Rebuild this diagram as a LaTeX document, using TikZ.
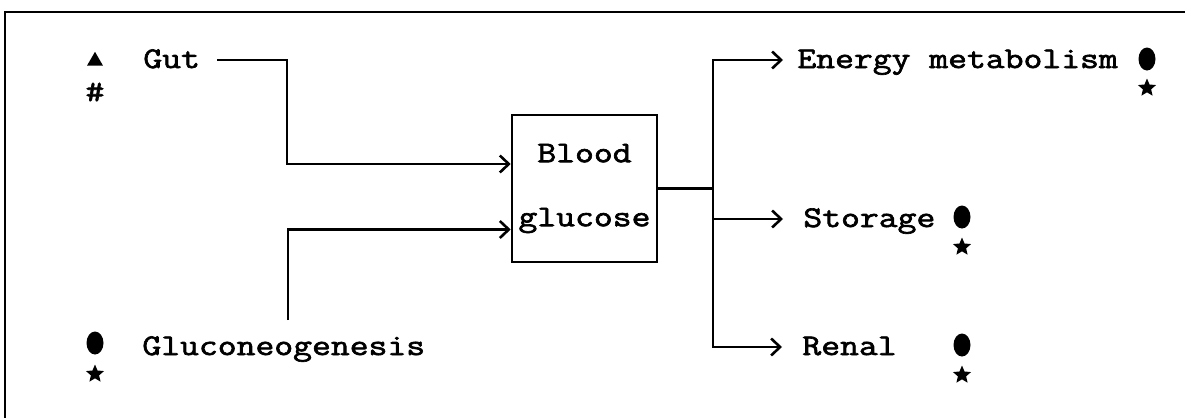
\documentclass[tikz,border=0pt]{standalone}
\usepackage{fontspec}
\setmonofont{Latin Modern Mono}[FakeStretch=1.22,FakeBold=2.2]
\usetikzlibrary{arrows.meta,positioning,shapes.geometric}
\tikzset{
  bgfont/.style={font=\ttfamily\fontsize{15}{18}\selectfont},
  bglabel/.style={bgfont, anchor=west, inner sep=0pt,
    text height=11pt, text depth=3pt},
  bgbox/.style={bgfont, draw=black, line width=1.3pt, align=center,
    minimum width=72.5pt, minimum height=73.5pt, inner sep=2pt},
  bgedge/.style={-{Straight Barb[length=4.5pt,width=8.5pt,line width=1.3pt]},
    line width=1.3pt, line join=miter},
  bgline/.style={line width=1.3pt},
  bgframe/.style={line width=1.1pt},
  bgtri/.style={regular polygon, regular polygon sides=3, fill=black,
    inner sep=0pt, minimum size=9.2pt},
  bgdot/.style={ellipse, fill=black, inner sep=0pt,
    minimum width=8.5pt, minimum height=11.5pt},
  bgstar/.style={star, star points=5, star point ratio=2.2, fill=black,
    inner sep=0pt, minimum size=9.5pt},
  bgsign/.style={bgfont, inner sep=0pt}
}
\begin{document}
\begin{tikzpicture}[x=0.5pt,y=-0.5pt]
  \useasboundingbox (0,0) rectangle (1185,418);
  % frame
  \draw[bgframe] (5,418) -- (5,12) -- (1185,12);

  % sources
  \node[bglabel] (gut) at (143,60) {Gut};
  \node[bglabel] (gneo) at (142,347) {Gluconeogenesis};
  \node[bgtri] (gutmark) at (95,61) {};
  \node[bgsign] (gutnote) at (95,92) {\#};
  \node[bgdot] (gneomark) at (95,343) {};
  \node[bgstar] (gneonote) at (95,374) {};

  % pool
  \node[bgbox] (blood) at (584.5,188.5) {Blood\\[14pt]glucose};

  % sinks
  \node[bglabel] (energy) at (797,60) {Energy metabolism};
  \node[bglabel] (storage) at (803,219) {Storage};
  \node[bglabel] (renal) at (802,347) {Renal};
  \node[bgdot] (energymark) at (1147,59) {};
  \node[bgstar] (energynote) at (1147,88) {};
  \node[bgdot] (storagemark) at (962,217) {};
  \node[bgstar] (storagenote) at (962,247) {};
  \node[bgdot] (renalmark) at (962,345) {};
  \node[bgstar] (renalnote) at (962,375) {};

  \coordinate (gutbend) at (287,60);
  \coordinate (gneotop) at (288,320);
  \coordinate (split) at (713,188.5);

  \draw[bgedge] ([xshift=8.5pt]gut.east) -- (gutbend) |- ([yshift=12.25pt]blood.west);
  \draw[bgedge] (gneotop) |- ([yshift=-20.5pt]blood.west);
  \draw[bgline] (blood.east) -- (split);
  \draw[bgedge] (split) |- ([xshift=-7pt]energy.west);
  \draw[bgedge] (split) |- ([xshift=-10pt]storage.west);
  \draw[bgedge] (split) |- ([xshift=-10pt]renal.west);
\end{tikzpicture}
\end{document}
